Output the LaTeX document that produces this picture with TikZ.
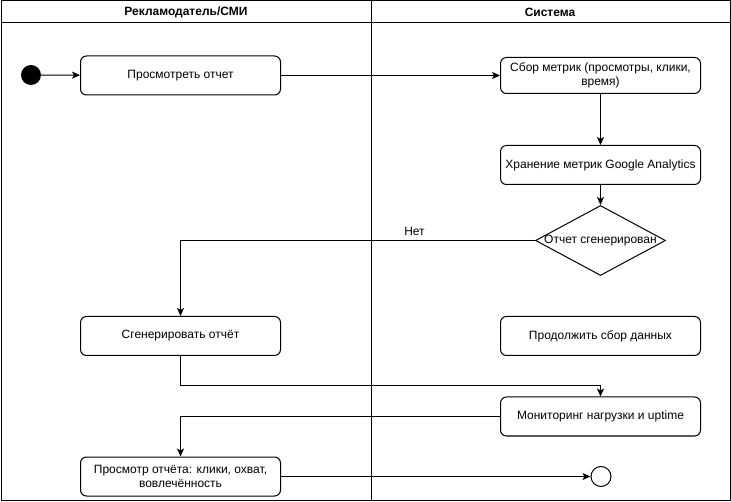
\documentclass[tikz,border=0pt]{standalone}
\usepackage{fontspec}
\setmainfont{Liberation Sans}
\usetikzlibrary{shapes.geometric,arrows.meta}
\begin{document}
\begin{tikzpicture}[x=1pt,y=-1pt,
  every node/.style={font=\fontsize{12}{14}\selectfont},
  act/.style={draw,line width=1pt,rounded corners=6pt,minimum width=200pt,minimum height=39pt,align=center,inner sep=2pt},
  choice/.style={draw,line width=1pt,diamond,aspect=1.857,minimum width=130pt,minimum height=70pt,inner sep=0pt},
  flow/.style={line width=1pt,-{Stealth[length=8pt,width=7pt,inset=2pt]}},
  head/.style={font=\bfseries\fontsize{12}{14}\selectfont}
]
\useasboundingbox (0,0) rectangle (731,502);
\fill[white] (0,0) rectangle (731,502);
% swimlanes
\draw[line width=1pt] (1,1) rectangle (730,500);
\draw[line width=1pt] (1,23) -- (730,23);
\draw[line width=1pt] (371,1) -- (371,500);
\node[head] (laneA) at (186,12) {Рекламодатель/СМИ};
\node[head] (laneB) at (550,12) {Система};

% nodes
\node[circle,fill=black,minimum size=20pt,inner sep=0pt] (start) at (31,75) {};
\node[act] (view) at (180.5,75.5) {Просмотреть отчет};
\node[act,minimum height=36pt] (collect) at (600.5,75.5) {Сбор метрик (просмотры, клики,\\время)};
\node[act] (store) at (600.5,165) {Хранение метрик Google Analytics};
\node[choice] (dec) at (600.5,240.5) {};
\node (decl) at (600.5,240.5) {Отчет сгенерирован};
\node[act] (gen) at (180.5,336) {Сгенерировать отчёт};
\node[act] (cont) at (600.5,336) {Продолжить сбор данных};
\node[act] (mon) at (600.5,416.5) {Мониторинг нагрузки и uptime};
\node[act] (rep) at (180.5,476.5) {Просмотр отчёта: клики, охват,\\вовлечённость};
\node[circle,draw,line width=1pt,minimum size=20pt,inner sep=0pt] (stop) at (601,476.5) {};

% connectors
\draw[flow] (start) -- (view);
\draw[flow] (view) -- (collect);
\draw[flow] (collect) -- (store);
\draw[flow] (store) -- (dec);
\draw[flow] (dec.west) -| node[pos=0.17,above=1pt] {Нет} (gen.north);
\coordinate (bend) at (180.5,385.5);
\draw[flow] (gen.south) -- (bend) -| (mon.north);
\draw[flow] (mon.west) -| (rep.north);
\draw[flow] (rep) -- (stop);
\end{tikzpicture}
\end{document}
